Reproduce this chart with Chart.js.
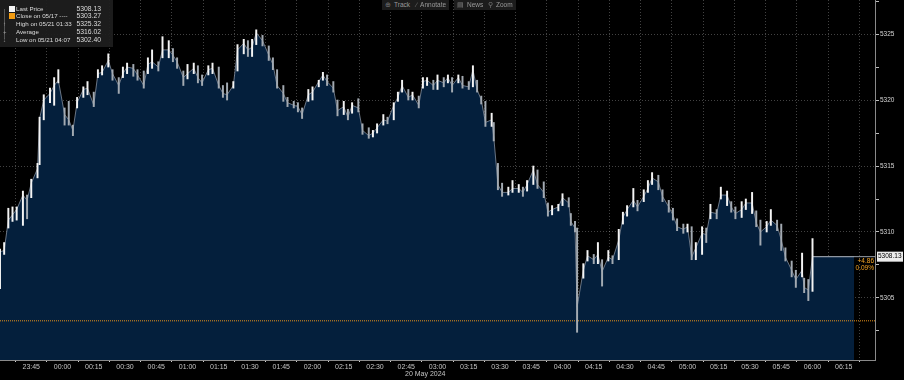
<!DOCTYPE html>
<html>
<head>
<meta charset="utf-8">
<script src="https://cdn.jsdelivr.net/npm/chart.js@4.4.1/dist/chart.umd.min.js"></script>
<style>
  html, body { margin: 0; padding: 0; background: #000; }
  #wrap { position: relative; width: 904px; height: 380px; overflow: hidden; }
  #legend { position: absolute; left: 0; top: 0; width: 113px; height: 47px; background: rgba(30,30,30,0.93);
            font: 6px "Liberation Sans", sans-serif; color: #dcdcdc; }
  .row { position: absolute; left: 0; width: 113px; height: 8px; line-height: 8px; white-space: nowrap; }
  .row .lbl { position: absolute; left: 16px; font-size: 6.2px; }
  .row .val { position: absolute; right: 12px; font-size: 6.8px; }
  .sw { position: absolute; left: 9px; top: 1px; width: 6px; height: 6px; }
  .ic { position: absolute; left: 3px; color: #9a9a9a; }
  #tree { position: absolute; left: 4px; top: 9px; width: 1px; height: 30px; background: #555; }
  #toolbar { position: absolute; top: 0; left: 382px; height: 10px; font: 6.5px "Liberation Sans", sans-serif; color: #9a9a9a; }
  .btn { position: absolute; top: 0; height: 10px; line-height: 10px; background: #1c1c1c; padding: 0 3px; white-space: nowrap; }
  .btn span { color: #777; margin-right: 3px; }
</style>
</head>
<body>
<div id="wrap">
  <canvas id="chart" width="904" height="380"></canvas>
  <div id="legend">
    <div id="tree"></div>
    <div class="row" style="top:5px"><div class="sw" style="background:#f4f4f4"></div><span class="lbl">Last Price</span><span class="val" id="vLast"></span></div>
    <div class="row" style="top:12px"><div class="sw" style="background:#f39c12"></div><span class="lbl">Close on 05/17 ----</span><span class="val" id="vClose"></span></div>
    <div class="row" style="top:20px"><span class="ic">↑</span><span class="lbl">High on 05/21 01:33</span><span class="val" id="vHigh"></span></div>
    <div class="row" style="top:28px"><span class="ic">+</span><span class="lbl">Average</span><span class="val" id="vAvg"></span></div>
    <div class="row" style="top:36px"><span class="ic">↓</span><span class="lbl">Low on 05/21 04:07</span><span class="val" id="vLow"></span></div>
  </div>
  <div id="toolbar">
    <div class="btn" style="left:0px"><span>⊕</span>Track</div>
    <div class="btn" style="left:31px"><span>∕</span>Annotate</div>
    <div class="btn" style="left:72px"><span>▤</span>News</div>
    <div class="btn" style="left:103px"><span>⚲</span>Zoom</div>
  </div>
</div>
<script>
// price data (roughly every 2-3 minutes)
const times = [
  "23:30","23:32","23:34","23:36","23:38","23:41","23:43","23:45","23:48","23:49",
  "23:51","23:54","23:56","23:58","00:01","00:03","00:05","00:07","00:10","00:12",
  "00:15","00:17","00:19","00:22","00:24","00:27","00:29","00:31","00:34","00:36",
  "00:39","00:41","00:43","00:46","00:48","00:51","00:53","00:55","00:58","01:00",
  "01:03","01:05","01:07","01:10","01:12","01:15","01:17","01:19","01:22","01:24",
  "01:27","01:29","01:31","01:33","01:36","01:39","01:41","01:43","01:46","01:48",
  "01:51","01:53","01:55","01:58","02:00","02:03","02:05","02:07","02:10","02:12",
  "02:15","02:17","02:19","02:22","02:24","02:27","02:29","02:31","02:34","02:36",
  "02:39","02:41","02:43","02:46","02:48","02:51","02:53","02:55","02:58","03:00",
  "03:03","03:05","03:07","03:10","03:12","03:15","03:17","03:19","03:21","03:23",
  "03:26","03:27","03:29","03:31","03:34","03:36","03:39","03:41","03:43","03:46",
  "03:48","03:51","03:53","03:55","03:58","04:00","04:03","04:04","04:06","04:07",
  "04:10","04:12","04:15","04:17","04:19","04:22","04:24","04:27","04:29","04:31",
  "04:34","04:36","04:39","04:41","04:43","04:46","04:48","04:51","04:53","04:55",
  "04:58","05:00","05:02","05:04","05:07","05:09","05:11","05:14","05:16","05:19",
  "05:21","05:23","05:26","05:28","05:31","05:33","05:35","05:38","05:40","05:43",
  "05:45","05:47","05:50","05:52","05:55","05:56","05:58","06:00"
];
const closes = [
  5308.5, 5308.6, 5310.9, 5311.3, 5311.7, 5312.8, 5312.4, 5313.7, 5314.8, 5318.6,
  5320.0, 5320.5, 5321.1, 5321.5, 5318.9, 5318.5, 5317.7, 5319.8, 5320.8, 5320.9,
  5319.6, 5322.0, 5322.1, 5323.0, 5322.0, 5321.1, 5322.0, 5322.5, 5322.4, 5321.9,
  5321.1, 5322.7, 5322.9, 5322.5, 5323.8, 5323.8, 5323.4, 5322.9, 5321.7, 5322.0,
  5322.4, 5321.7, 5321.3, 5322.3, 5322.4, 5321.1, 5320.5, 5320.4, 5321.1, 5323.8,
  5324.3, 5323.8, 5324.0, 5325.1, 5324.5, 5323.4, 5322.7, 5321.1, 5320.5, 5319.8,
  5319.6, 5319.5, 5318.9, 5320.4, 5320.6, 5321.4, 5321.9, 5321.4, 5320.9, 5319.2,
  5319.5, 5318.7, 5319.6, 5319.4, 5317.7, 5317.3, 5317.5, 5317.9, 5318.5, 5318.4,
  5319.6, 5320.2, 5321.1, 5320.2, 5320.4, 5319.6, 5321.4, 5321.5, 5321.1, 5321.5,
  5321.3, 5321.7, 5321.1, 5321.7, 5321.1, 5321.0, 5322.3, 5320.8, 5320.0, 5318.3,
  5318.5, 5317.2, 5313.6, 5313.0, 5313.0, 5313.3, 5313.3, 5313.0, 5313.6, 5314.7,
  5313.6, 5313.0, 5311.5, 5311.7, 5311.9, 5312.6, 5312.2, 5310.8, 5310.3, 5304.3,
  5307.1, 5308.2, 5307.9, 5308.3, 5307.0, 5308.1, 5307.9, 5309.4, 5311.1, 5311.7,
  5312.4, 5311.9, 5312.7, 5313.3, 5314.1, 5313.8, 5312.7, 5311.9, 5311.3, 5310.4,
  5310.2, 5310.4, 5308.1, 5308.8, 5309.9, 5309.8, 5311.5, 5311.4, 5312.8, 5312.8,
  5311.9, 5311.4, 5311.7, 5312.2, 5312.2, 5310.7, 5310.0, 5310.4, 5310.9, 5310.5,
  5309.4, 5308.1, 5307.1, 5306.4, 5307.1, 5305.8, 5305.6, 5308.13
];
const highs = [
  5308.7, 5309.2, 5311.8, 5311.9, 5311.9, 5313.1, 5312.8, 5314.0, 5315.2, 5318.7,
  5320.4, 5320.9, 5321.7, 5322.3, 5319.4, 5319.9, 5318.1, 5320.2, 5321.0, 5321.4,
  5320.6, 5322.3, 5322.6, 5323.5, 5322.3, 5321.7, 5322.5, 5322.8, 5322.7, 5322.3,
  5322.2, 5323.2, 5323.8, 5322.9, 5324.8, 5324.5, 5323.9, 5323.2, 5322.2, 5322.7,
  5322.8, 5322.6, 5321.9, 5322.6, 5322.8, 5322.5, 5321.1, 5321.3, 5321.4, 5324.2,
  5324.6, 5324.5, 5324.6, 5325.32, 5324.9, 5324.1, 5323.2, 5322.3, 5321.1, 5320.2,
  5319.9, 5319.8, 5319.4, 5320.8, 5321.0, 5321.5, 5322.1, 5321.9, 5321.4, 5320.0,
  5319.9, 5319.3, 5319.8, 5320.1, 5318.2, 5317.9, 5317.7, 5318.2, 5318.9, 5318.7,
  5319.8, 5320.6, 5321.5, 5320.8, 5320.6, 5320.3, 5321.7, 5321.7, 5321.5, 5321.9,
  5321.7, 5321.9, 5321.7, 5321.9, 5321.8, 5321.4, 5322.6, 5321.5, 5320.3, 5319.9,
  5319.0, 5318.3, 5315.2, 5313.7, 5313.4, 5313.9, 5313.6, 5313.4, 5313.9, 5315.0,
  5314.7, 5313.8, 5312.2, 5312.0, 5312.1, 5312.9, 5312.6, 5311.4, 5310.8, 5310.3,
  5307.6, 5308.6, 5308.3, 5309.2, 5307.9, 5308.6, 5308.2, 5310.2, 5311.5, 5312.0,
  5313.3, 5312.4, 5313.2, 5313.9, 5314.5, 5314.3, 5313.2, 5312.4, 5311.8, 5311.0,
  5310.6, 5310.6, 5310.4, 5309.2, 5310.4, 5310.3, 5312.1, 5311.7, 5313.4, 5313.1,
  5312.3, 5311.9, 5312.3, 5312.5, 5313.0, 5311.6, 5310.9, 5310.8, 5311.7, 5310.9,
  5310.6, 5308.8, 5307.8, 5307.1, 5308.4, 5306.5, 5306.4, 5309.5
];
const lows = [
  5305.7, 5308.3, 5310.3, 5310.8, 5310.9, 5310.5, 5311.0, 5312.6, 5314.1, 5315.1,
  5318.5, 5319.8, 5319.6, 5321.3, 5318.1, 5318.1, 5317.3, 5319.4, 5320.2, 5320.4,
  5319.5, 5321.7, 5321.9, 5322.5, 5321.5, 5320.5, 5321.7, 5322.0, 5321.8, 5321.5,
  5320.9, 5322.0, 5322.4, 5322.2, 5323.2, 5323.2, 5322.9, 5322.4, 5321.1, 5321.6,
  5322.0, 5321.3, 5321.1, 5321.9, 5322.0, 5320.9, 5320.2, 5320.0, 5320.9, 5322.2,
  5323.5, 5323.3, 5323.3, 5324.2, 5324.1, 5323.0, 5322.3, 5320.9, 5319.9, 5319.5,
  5319.4, 5319.1, 5318.6, 5319.9, 5320.0, 5321.0, 5321.5, 5321.1, 5320.6, 5318.8,
  5318.9, 5318.5, 5319.0, 5319.1, 5317.4, 5317.1, 5317.2, 5317.5, 5318.1, 5318.2,
  5318.5, 5319.9, 5320.6, 5320.0, 5320.0, 5319.4, 5320.9, 5321.1, 5320.8, 5320.8,
  5321.0, 5321.3, 5320.6, 5321.3, 5320.9, 5320.8, 5321.0, 5320.6, 5319.7, 5318.0,
  5318.0, 5316.9, 5313.2, 5312.7, 5312.8, 5313.0, 5313.0, 5312.7, 5313.1, 5313.6,
  5313.3, 5312.6, 5311.2, 5311.3, 5311.6, 5312.0, 5311.9, 5310.5, 5310.0, 5302.4,
  5306.5, 5307.8, 5307.6, 5307.6, 5305.9, 5307.8, 5307.6, 5307.9, 5310.6, 5311.2,
  5311.9, 5311.6, 5312.3, 5313.0, 5313.6, 5313.2, 5312.3, 5311.5, 5310.9, 5310.1,
  5309.9, 5310.0, 5307.9, 5307.9, 5308.3, 5309.2, 5311.0, 5311.0, 5312.5, 5312.0,
  5311.5, 5311.0, 5311.1, 5311.7, 5311.4, 5310.4, 5309.0, 5310.0, 5310.5, 5310.1,
  5308.6, 5307.8, 5306.6, 5305.8, 5306.6, 5305.4, 5304.8, 5305.5
];
const prevClose = 5303.27;
const avgPrice = 5316.02;
const extendTo = "06:20";   // last price carried to here
const xTickLabels = [
  "23:45","00:00","00:15","00:30","00:45","01:00","01:15","01:30","01:45","02:00",
  "02:15","02:30","02:45","03:00","03:15","03:30","03:45","04:00","04:15","04:30",
  "04:45","05:00","05:15","05:30","05:45","06:00","06:15"
];
const yTickLabels = [5305, 5310, 5315, 5320, 5325];
const yMinorTicks = [5302.5, 5307.5, 5312.5, 5317.5, 5322.5, 5327.5];
const dateLabel = "20 May 2024";

const START = 23 * 60 + 30;
const toMin = (s) => {
  const [h, m] = s.split(":").map(Number);
  return (h * 60 + m - START + 1440) % 1440;
};
const fmt = (v) => {
  const t = (START + v) % 1440;
  return String(Math.floor(t / 60)).padStart(2, "0") + ":" + String(t % 60).padStart(2, "0");
};

const lastPrice = closes[closes.length - 1];
const lastT = toMin(times[times.length - 1]);
const change = lastPrice - prevClose;
const pct = (change / prevClose) * 100;

document.getElementById("vLast").textContent = lastPrice.toFixed(2);
document.getElementById("vClose").textContent = prevClose.toFixed(2);
document.getElementById("vHigh").textContent = Math.max(...highs).toFixed(2);
document.getElementById("vAvg").textContent = avgPrice.toFixed(2);
document.getElementById("vLow").textContent = Math.min(...lows).toFixed(2);

const FONT = '"Liberation Sans", sans-serif';
Chart.defaults.font.family = FONT;

const areaData = times.map((t, i) => ({ x: toMin(t), y: closes[i] }));
areaData.push({ x: toMin(extendTo), y: lastPrice });
const barData = times.map((t, i) => ({ x: toMin(t), y: [lows[i], highs[i]] }));
const barColors = closes.map((c, i) => (i === 0 || c >= closes[i - 1] ? "#f4f4f4" : "#a3aab2"));

const extras = {
  id: "extras",
  afterDraw(chart) {
    const { ctx, scales: { x, y } } = chart;
    const py = y.getPixelForValue(lastPrice);
    ctx.save();
    // last price tag on the axis
    ctx.fillStyle = "#ececec";
    ctx.fillRect(x.right + 2, py - 5, 26, 10);
    ctx.fillStyle = "#000";
    ctx.font = "6.5px " + FONT;
    ctx.textBaseline = "middle";
    ctx.textAlign = "left";
    ctx.fillText(lastPrice.toFixed(2), x.right + 3, py);
    // change vs previous close
    ctx.fillStyle = "#f5a524";
    ctx.font = "6.5px " + FONT;
    ctx.textAlign = "right";
    ctx.fillText((change >= 0 ? "+" : "") + change.toFixed(2), x.right - 1, py + 5);
    ctx.fillText(pct.toFixed(2) + "%", x.right - 1, py + 12);
    // date under the time axis
    ctx.fillStyle = "#c4c4c4";
    ctx.font = "7px " + FONT;
    ctx.textAlign = "right";
    ctx.fillText(dateLabel, x.getPixelForValue(toMin("03:00")) + 8, y.bottom + 14);
    ctx.restore();
  }
};

new Chart(document.getElementById("chart"), {
  type: "bar",
  data: {
    datasets: [
      {
        type: "bar",
        data: barData,
        backgroundColor: barColors,
        barThickness: 1.3,
        borderWidth: 0,
        order: 0
      },
      {
        type: "line",
        data: [{ x: 0, y: prevClose }, { x: 420, y: prevClose }],
        borderColor: "#e8921a",
        borderWidth: 1,
        borderDash: [1, 1],
        pointRadius: 0,
        fill: false,
        order: 1
      },
      {
        type: "line",
        data: [{ x: lastT, y: lastPrice }, { x: 420, y: lastPrice }],
        borderColor: "#9aa1aa",
        borderWidth: 1,
        pointRadius: 0,
        fill: false,
        order: 1
      },
      {
        type: "line",
        data: areaData,
        borderColor: "rgba(150,160,175,0.7)",
        borderWidth: 1,
        backgroundColor: "rgb(4,31,60)",
        fill: "start",
        pointRadius: 0,
        tension: 0,
        order: 2
      }
    ]
  },
  options: {
    responsive: false,
    devicePixelRatio: 1,
    animation: false,
    layout: { padding: 0 },
    plugins: { legend: { display: false }, tooltip: { enabled: false } },
    scales: {
      x: {
        type: "linear",
        min: 0,
        max: 420,
        offset: false,
        z: 1,
        afterBuildTicks: (s) => { s.ticks = xTickLabels.map((l) => ({ value: toMin(l) })); },
        ticks: {
          autoSkip: false, maxRotation: 0, minRotation: 0,
          color: "#c4c4c4", font: { size: 7 }, padding: 1,
          callback: (v) => fmt(v)
        },
        grid: { color: "rgba(255,255,255,0.26)", tickLength: 2, tickColor: "#cfcfcf" },
        border: { color: "#8a8a8a", width: 1, dash: [1, 2] },
        afterFit: (s) => { s.height = 20; s.paddingLeft = 0; s.paddingRight = 0; }
      },
      y: {
        type: "linear",
        position: "right",
        min: 5300.3,
        max: 5327.58,
        z: 1,
        afterBuildTicks: (s) => {
          s.ticks = [...yTickLabels, ...yMinorTicks].sort((a, b) => a - b).map((v) => ({ value: v }));
        },
        ticks: {
          color: "#d4d4d4", font: { size: 6.5 }, padding: 1,
          callback: (v) => (yTickLabels.includes(v) ? String(v) : "")
        },
        grid: {
          color: (c) => (c.tick && yTickLabels.includes(c.tick.value) ? "rgba(255,255,255,0.26)" : "rgba(0,0,0,0)"),
          tickLength: 4,
          tickColor: "#bdbdbd"
        },
        border: { color: "#8a8a8a", width: 1, dash: [1, 2] },
        afterFit: (s) => { s.width = 29; s.paddingTop = 0; s.paddingBottom = 0; }
      }
    }
  },
  plugins: [extras]
});
</script>
</body>
</html>
